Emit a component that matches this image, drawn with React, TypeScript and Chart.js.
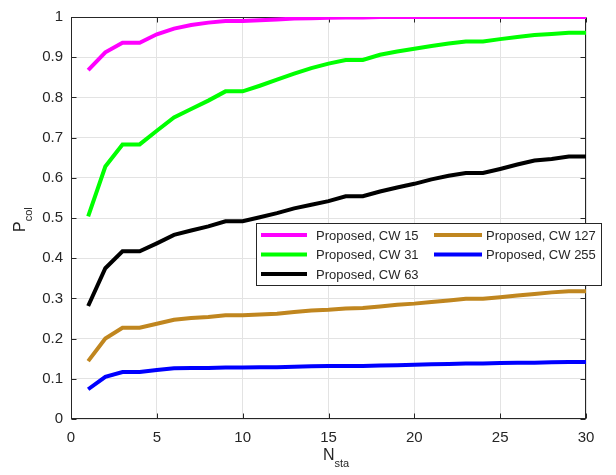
import React, { useEffect, useRef } from "react";
import { Chart, registerables } from "chart.js";

Chart.register(...registerables);

const nSta = [1, 2, 3, 4, 5, 6, 7, 8, 9, 10, 11, 12, 13, 14, 15, 16, 17, 18, 19, 20, 21, 22, 23, 24, 25, 26, 27, 28, 29, 30];

const cw15 = [0.868, 0.912, 0.936, 0.936, 0.957, 0.971, 0.98, 0.986, 0.99, 0.99, 0.992, 0.994, 0.996, 0.997, 0.998, 0.999, 0.999, 1, 1, 1, 1, 1, 1, 1, 1, 1, 1, 1, 1, 1];
const cw31 = [0.504, 0.628, 0.683, 0.683, 0.717, 0.75, 0.771, 0.792, 0.815, 0.815, 0.829, 0.844, 0.859, 0.873, 0.884, 0.893, 0.893, 0.906, 0.914, 0.921, 0.928, 0.934, 0.939, 0.939, 0.945, 0.95, 0.955, 0.958, 0.961, 0.961];
const cw63 = [0.281, 0.375, 0.417, 0.417, 0.437, 0.458, 0.469, 0.479, 0.492, 0.492, 0.502, 0.512, 0.524, 0.533, 0.542, 0.554, 0.554, 0.566, 0.576, 0.585, 0.596, 0.605, 0.612, 0.612, 0.622, 0.633, 0.643, 0.647, 0.653, 0.653];
const cw127 = [0.144, 0.2, 0.227, 0.227, 0.237, 0.247, 0.251, 0.254, 0.258, 0.258, 0.26, 0.262, 0.266, 0.27, 0.272, 0.275, 0.276, 0.28, 0.284, 0.287, 0.291, 0.295, 0.299, 0.299, 0.303, 0.307, 0.311, 0.315, 0.318, 0.318];
const cw255 = [0.074, 0.105, 0.117, 0.117, 0.122, 0.126, 0.127, 0.127, 0.128, 0.128, 0.129, 0.129, 0.13, 0.131, 0.132, 0.132, 0.132, 0.133, 0.134, 0.135, 0.136, 0.137, 0.138, 0.138, 0.139, 0.14, 0.14, 0.141, 0.142, 0.142];

const seriesLabels = ["Proposed, CW 15", "Proposed, CW 31", "Proposed, CW 63", "Proposed, CW 127", "Proposed, CW 255"];
const seriesColors = ["#ff00ff", "#00ff00", "#000000", "#c0861f", "#0000ff"];
const seriesValues = [cw15, cw31, cw63, cw127, cw255];

const xLabelMain = "N";
const xLabelSub = "sta";
const yLabelMain = "P";
const yLabelSub = "col";

const FONT = "'Liberation Sans', Arial, Helvetica, sans-serif";
const AXIS_COLOR = "#262626";

const framePlugin = {
  id: "matlabFrame",
  beforeDatasetsDraw(chart: any) {
    const { ctx, chartArea: a, scales } = chart;
    ctx.save();
    ctx.strokeStyle = AXIS_COLOR;
    ctx.lineWidth = 1;
    const L = Math.round(a.left) + 0.5;
    const R = Math.round(a.right) - 0.5;
    const T = Math.round(a.top) + 0.5;
    const B = Math.round(a.bottom) - 0.5;
    ctx.strokeRect(L, T, R - L, B - T);
    const tl = 5;
    ctx.beginPath();
    scales.x.ticks.forEach((t: any) => {
      const px = Math.round(scales.x.getPixelForValue(t.value)) + 0.5;
      ctx.moveTo(px, B);
      ctx.lineTo(px, B - tl);
      ctx.moveTo(px, T);
      ctx.lineTo(px, T + tl);
    });
    scales.y.ticks.forEach((t: any) => {
      const py = Math.round(scales.y.getPixelForValue(t.value)) + 0.5;
      ctx.moveTo(L, py);
      ctx.lineTo(L + tl, py);
      ctx.moveTo(R, py);
      ctx.lineTo(R - tl, py);
    });
    ctx.stroke();
    ctx.restore();
  },
  afterDraw(chart: any) {
    const { ctx } = chart;
    ctx.save();
    ctx.fillStyle = AXIS_COLOR;
    ctx.textBaseline = "alphabetic";
    ctx.textAlign = "left";
    // x label
    ctx.font = `16px ${FONT}`;
    const nx = 323;
    ctx.fillText(xLabelMain, nx, 460);
    const wN = ctx.measureText(xLabelMain).width;
    ctx.font = `11px ${FONT}`;
    ctx.fillText(xLabelSub, nx + wN, 467);
    // y label
    ctx.save();
    ctx.translate(25, 232);
    ctx.rotate(-Math.PI / 2);
    ctx.font = `16px ${FONT}`;
    ctx.fillText(yLabelMain, 0, 0);
    const wP = ctx.measureText(yLabelMain).width;
    ctx.font = `11px ${FONT}`;
    ctx.fillText(yLabelSub, wP, 7);
    ctx.restore();

    // legend
    const bx = 256.5, by = 223.5, bw = 345, bh = 62;
    ctx.fillStyle = "#ffffff";
    ctx.fillRect(bx, by, bw, bh);
    ctx.strokeStyle = AXIS_COLOR;
    ctx.lineWidth = 1;
    ctx.strokeRect(bx, by, bw, bh);
    const cols = [
      { lx: 261, lw: 46, tx: 316 },
      { lx: 434, lw: 48, tx: 486 },
    ];
    const rows = [235, 254.5, 274];
    ctx.font = `13px ${FONT}`;
    ctx.textBaseline = "middle";
    chart.data.datasets.forEach((ds: any, i: number) => {
      const c = cols[i < 3 ? 0 : 1];
      const y = rows[i < 3 ? i : i - 3];
      ctx.strokeStyle = ds.borderColor;
      ctx.lineWidth = 4;
      ctx.beginPath();
      ctx.moveTo(c.lx, y);
      ctx.lineTo(c.lx + c.lw, y);
      ctx.stroke();
      ctx.fillStyle = AXIS_COLOR;
      ctx.fillText(ds.label, c.tx, y + 1);
    });
    ctx.restore();
  },
};

export default function App() {
  const ref = useRef<HTMLCanvasElement>(null);
  useEffect(() => {
    if (!ref.current) return;
    const datasets = seriesValues.map((vals, i) => ({
      label: seriesLabels[i],
      data: nSta.map((x, j) => ({ x, y: vals[j] })),
      borderColor: seriesColors[i],
      backgroundColor: seriesColors[i],
      borderWidth: 4,
      pointRadius: 0,
      tension: 0,
      fill: false,
    }));
    const chart = new Chart(ref.current, {
      type: "line",
      data: { datasets },
      options: {
        animation: false,
        responsive: false,
        devicePixelRatio: 1,
        layout: { padding: { top: 16, right: 30, left: 0, bottom: 0 } },
        plugins: { legend: { display: false }, tooltip: { enabled: false } },
        scales: {
          x: {
            type: "linear",
            min: 0,
            max: 30,
            ticks: { stepSize: 5, font: { size: 15, family: FONT }, color: AXIS_COLOR, padding: 10, maxRotation: 0 },
            grid: { color: "#e3e3e3", drawTicks: false },
            border: { display: false },
            afterFit: (s: any) => { s.height = 56; },
          },
          y: {
            type: "linear",
            min: 0,
            max: 1,
            ticks: {
              stepSize: 0.1,
              font: { size: 15, family: FONT },
              color: AXIS_COLOR,
              padding: 8,
              callback: (v: any) => String(Number(Number(v).toFixed(1))),
            },
            grid: { color: "#e3e3e3", drawTicks: false },
            border: { display: false },
            afterFit: (s: any) => { s.width = 71; },
          },
        },
      },
      plugins: [framePlugin],
    });
    return () => chart.destroy();
  }, []);
  return (
    <div style={{ position: "absolute", left: 0, top: 0, width: 616, height: 475, background: "#fff" }}>
      <canvas ref={ref} width={616} height={475} style={{ display: "block", width: 616, height: 475 }} />
    </div>
  );
}
